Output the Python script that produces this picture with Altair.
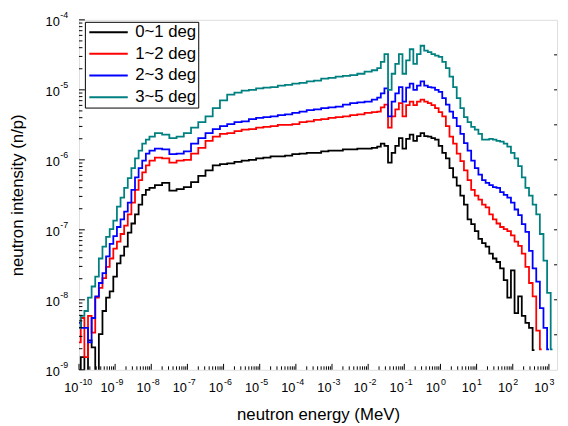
import altair as alt
import pandas as pd

FONT = "Liberation Sans"

series_names = ["0~1 deg", "1~2 deg", "2~3 deg", "3~5 deg"]
series_colors = ["#000000", "#ff0000", "#0000ff", "#008080"]

# bin energies, log10(MeV)
log_energy = [
    -10.0, -9.9, -9.8, -9.7, -9.6, -9.5, -9.4, -9.3, -9.2, -9.1,
    -9.0, -8.9, -8.8, -8.7, -8.6, -8.5, -8.4, -8.3, -8.2, -8.1,
    -8.0, -7.8, -7.6, -7.4, -7.2, -7.0, -6.8, -6.6, -6.4, -6.2,
    -6.0, -5.8, -5.6, -5.4, -5.2, -5.0, -4.8, -4.6, -4.4, -4.2,
    -4.0, -3.8, -3.6, -3.4, -3.2, -3.0, -2.8, -2.6, -2.4, -2.2,
    -2.0, -1.8, -1.7, -1.6, -1.5, -1.4, -1.3, -1.2, -1.1, -1.0,
    -0.9, -0.8, -0.7, -0.6, -0.5, -0.4, -0.3, -0.2, -0.1, 0.0,
    0.1, 0.2, 0.3, 0.4, 0.5, 0.6, 0.7, 0.8, 0.9, 1.0,
    1.1, 1.2, 1.3, 1.4, 1.5, 1.6, 1.7, 1.8, 1.9, 2.0,
    2.1, 2.2, 2.3, 2.4, 2.5, 2.6, 2.7, 2.8, 2.9, 3.0,
    3.1, 3.2,
]

# log10 intensity (n/p) for each series
log_deg01 = [
    -9.3, -8.82, -9.3, -8.58, -8.68, -9.3, -8.49, -8.16, -7.97, -7.88,
    -7.67, -7.48, -7.37, -7.24, -7.04, -6.91, -6.78, -6.64, -6.50, -6.43,
    -6.40, -6.36, -6.33, -6.44, -6.42, -6.39, -6.32, -6.23, -6.15, -6.08,
    -6.06, -6.05, -6.03, -6.01, -6.00, -5.98, -5.97, -5.95, -5.95, -5.94,
    -5.92, -5.91, -5.90, -5.90, -5.88, -5.87, -5.87, -5.85, -5.85, -5.84,
    -5.84, -5.83, -5.81, -5.77, -5.80, -6.04, -5.90, -5.80, -5.69, -5.84,
    -5.70, -5.64, -5.73, -5.66, -5.62, -5.66, -5.67, -5.69, -5.71, -5.80,
    -5.90, -5.98, -6.12, -6.25, -6.37, -6.51, -6.64, -6.85, -6.92, -7.02,
    -7.13, -7.19, -7.24, -7.34, -7.41, -7.46, -7.55, -7.72, -7.97, -7.58,
    -8.19, -7.95, -8.23, -8.33, -8.40, -8.72, None, None, None, None,
    None, None,
]
log_deg12 = [
    -8.61, -8.26, -8.82, -8.23, -8.47, -7.97, -7.83, -7.69, -7.53, -7.41,
    -7.27, -7.17, -7.06, -6.94, -6.78, -6.61, -6.43, -6.29, -6.18, -6.08,
    -6.01, -5.97, -5.98, -6.04, -6.01, -6.00, -5.91, -5.83, -5.73, -5.67,
    -5.63, -5.62, -5.59, -5.57, -5.56, -5.54, -5.53, -5.52, -5.50, -5.50,
    -5.49, -5.46, -5.45, -5.43, -5.42, -5.40, -5.39, -5.38, -5.36, -5.35,
    -5.33, -5.32, -5.31, -5.25, -5.21, -5.54, -5.38, -5.28, -5.19, -5.38,
    -5.22, -5.17, -5.22, -5.17, -5.14, -5.17, -5.19, -5.22, -5.26, -5.32,
    -5.38, -5.52, -5.67, -5.77, -5.91, -6.02, -6.15, -6.29, -6.43, -6.51,
    -6.57, -6.64, -6.68, -6.78, -6.85, -6.91, -6.96, -6.99, -7.02, -7.08,
    -7.17, -7.23, -7.34, -7.53, -7.76, -7.95, -8.44, -8.71, None, None,
    None, None,
]
log_deg23 = [
    -8.33, -8.40, -8.40, -8.61, -8.26, -7.95, -7.76, -7.62, -7.38, -7.20,
    -7.09, -6.96, -6.85, -6.74, -6.61, -6.43, -6.25, -6.12, -6.01, -5.91,
    -5.87, -5.84, -5.85, -5.92, -5.91, -5.88, -5.77, -5.69, -5.62, -5.56,
    -5.52, -5.49, -5.46, -5.45, -5.42, -5.40, -5.39, -5.38, -5.36, -5.35,
    -5.33, -5.31, -5.29, -5.28, -5.26, -5.25, -5.24, -5.21, -5.19, -5.18,
    -5.17, -5.14, -5.11, -5.05, -4.98, -5.38, -5.17, -5.05, -4.96, -5.17,
    -4.97, -4.91, -5.00, -4.94, -4.88, -4.94, -4.96, -4.97, -5.00, -5.03,
    -5.12, -5.21, -5.31, -5.40, -5.52, -5.63, -5.76, -5.87, -6.01, -6.12,
    -6.21, -6.29, -6.33, -6.36, -6.39, -6.40, -6.46, -6.50, -6.54, -6.61,
    -6.71, -6.79, -6.92, -7.03, -7.30, -7.55, -7.74, -8.12, -8.40, -8.71,
    None, None,
]
log_deg35 = [
    -8.40, -8.23, -8.16, -7.97, -7.81, -7.67, -7.41, -7.24, -7.10, -6.99,
    -6.87, -6.67, -6.54, -6.40, -6.26, -6.12, -5.98, -5.87, -5.77, -5.71,
    -5.67, -5.62, -5.64, -5.69, -5.67, -5.62, -5.54, -5.46, -5.38, -5.26,
    -5.15, -5.07, -5.04, -5.01, -5.00, -4.98, -4.97, -4.96, -4.94, -4.93,
    -4.91, -4.90, -4.88, -4.87, -4.84, -4.83, -4.81, -4.80, -4.79, -4.77,
    -4.74, -4.72, -4.69, -4.60, -4.49, -5.00, -4.77, -4.63, -4.49, -4.77,
    -4.58, -4.42, -4.63, -4.49, -4.37, -4.44, -4.46, -4.49, -4.51, -4.53,
    -4.60, -4.69, -4.81, -4.96, -5.12, -5.26, -5.39, -5.46, -5.53, -5.57,
    -5.63, -5.71, -5.71, -5.70, -5.71, -5.73, -5.74, -5.77, -5.81, -5.90,
    -5.98, -6.09, -6.25, -6.40, -6.51, -6.64, -6.78, -7.06, -7.44, -7.90,
    -8.71, None,
]

# axis tick values and labels
x_major_values = [1e-10, 1e-9, 1e-8, 1e-7, 1e-6, 1e-5, 1e-4, 1e-3, 1e-2, 1e-1, 1e0, 1e1, 1e2, 1e3]
x_major_exps = ["-10", "-9", "-8", "-7", "-6", "-5", "-4", "-3", "-2", "-1", "0", "1", "2", "3"]
y_major_values = [1e-9, 1e-8, 1e-7, 1e-6, 1e-5, 1e-4]
y_major_exps = ["-9", "-8", "-7", "-6", "-5", "-4"]
minor_mult = [2, 3, 4, 5, 6, 7, 8, 9]
right_tick_values = [3.162e-5, 1e-5, 3.162e-6, 1e-6, 3.162e-7, 1e-7, 3.162e-8, 1e-8, 3.162e-9]

# ---- tables
rows = []
for name, vals in zip(series_names, [log_deg01, log_deg12, log_deg23, log_deg35]):
    for le, li in zip(log_energy, vals):
        if li is not None:
            rows.append({"energy": 10 ** le, "intensity": 10 ** li, "series": name})
df = pd.DataFrame(rows)

df_xmaj = pd.DataFrame({"energy": x_major_values, "exp": x_major_exps})
df_xmin = pd.DataFrame({"energy": [m * v for v in x_major_values[:-1] for m in minor_mult]})
df_ymaj = pd.DataFrame({"intensity": y_major_values, "exp": y_major_exps})
df_ymin = pd.DataFrame({"intensity": [m * v for v in y_major_values[:-1] for m in minor_mult]})
df_right = pd.DataFrame({"intensity": right_tick_values})

W, H = 485, 355
xscale = alt.Scale(type="log", domain=[1e-10, 1680], nice=False)
yscale = alt.Scale(type="log", domain=[1e-9, 1e-4], nice=False)

xaxis = alt.Axis(title="neutron energy (MeV)", labels=False, ticks=False, domain=False,
                 grid=False, titleFont=FONT, titleFontSize=17, titleFontWeight="normal",
                 titleColor="black", titleX=W / 2, titleY=50, titleAlign="center",
                 titleBaseline="alphabetic")
yaxis = alt.Axis(title="neutron intensity (n/p)", labels=False, ticks=False, domain=False,
                 grid=False, titleFont=FONT, titleFontSize=17, titleFontWeight="normal",
                 titleColor="black", titleX=-57, titleY=H / 2, titleAngle=270,
                 titleAlign="center", titleBaseline="alphabetic")

X = dict(field="energy", type="quantitative", scale=xscale, axis=xaxis)
Y = dict(field="intensity", type="quantitative", scale=yscale, axis=yaxis)

lines = alt.Chart(df).mark_line(interpolate="step", strokeWidth=1.8, clip=True).encode(
    x=alt.X(**X),
    y=alt.Y(**Y),
    color=alt.Color("series:N", scale=alt.Scale(domain=series_names, range=series_colors),
                    legend=alt.Legend(title=None, orient="none", legendX=6, legendY=2,
                                      symbolType="M-1.2,0H6.6", symbolSize=100,
                                      symbolStrokeWidth=2, labelFont=FONT, labelFontSize=17,
                                      labelColor="black", labelOffset=32, strokeColor="black",
                                      fillColor="white", padding=2, rowPadding=4)),
)

xmaj_ticks = alt.Chart(df_xmaj).mark_rule(color="black", strokeWidth=1).encode(
    x=alt.X(**X), y=alt.value(H), y2=alt.value(H - 6))
xmin_ticks = alt.Chart(df_xmin).mark_rule(color="black", strokeWidth=1).encode(
    x=alt.X(**X), y=alt.value(H), y2=alt.value(H - 3.5))
ymaj_ticks = alt.Chart(df_ymaj).mark_rule(color="black", strokeWidth=1).encode(
    y=alt.Y(**Y), x=alt.value(0), x2=alt.value(6))
ymin_ticks = alt.Chart(df_ymin).mark_rule(color="black", strokeWidth=1).encode(
    y=alt.Y(**Y), x=alt.value(0), x2=alt.value(3.5))
right_ticks = alt.Chart(df_right).mark_rule(color="black", strokeWidth=1).encode(
    y=alt.Y(**Y), x=alt.value(W), x2=alt.value(W - 3))

xlab_base = alt.Chart(df_xmaj).mark_text(align="right", baseline="alphabetic", font=FONT,
                                         fontSize=13, dx=-0.5, color="black").encode(
    x=alt.X(**X), y=alt.value(H + 23), text=alt.value("10"))
xlab_exp = alt.Chart(df_xmaj).mark_text(align="left", baseline="alphabetic", font=FONT,
                                        fontSize=9, dx=0.5, color="black").encode(
    x=alt.X(**X), y=alt.value(H + 15), text="exp:N")
ylab_base = alt.Chart(df_ymaj).mark_text(align="right", baseline="alphabetic", font=FONT,
                                         fontSize=13, dy=6, color="black").encode(
    y=alt.Y(**Y), x=alt.value(-19.5), text=alt.value("10"))
ylab_exp = alt.Chart(df_ymaj).mark_text(align="left", baseline="alphabetic", font=FONT,
                                        fontSize=9, dy=-1.5, color="black").encode(
    y=alt.Y(**Y), x=alt.value(-19), text="exp:N")

chart = alt.layer(
    lines, xmaj_ticks, xmin_ticks, ymaj_ticks, ymin_ticks, right_ticks,
    xlab_base, xlab_exp, ylab_base, ylab_exp,
).properties(
    width=W, height=H,
    padding={"left": 72, "top": 9, "right": 3, "bottom": 53},
    autosize=alt.AutoSizeParams(type="none"),
    background="white",
).configure_view(stroke="black", strokeWidth=1.5).configure(font=FONT)

chart.save("out.html", embed_options={"renderer": "svg", "actions": False})
